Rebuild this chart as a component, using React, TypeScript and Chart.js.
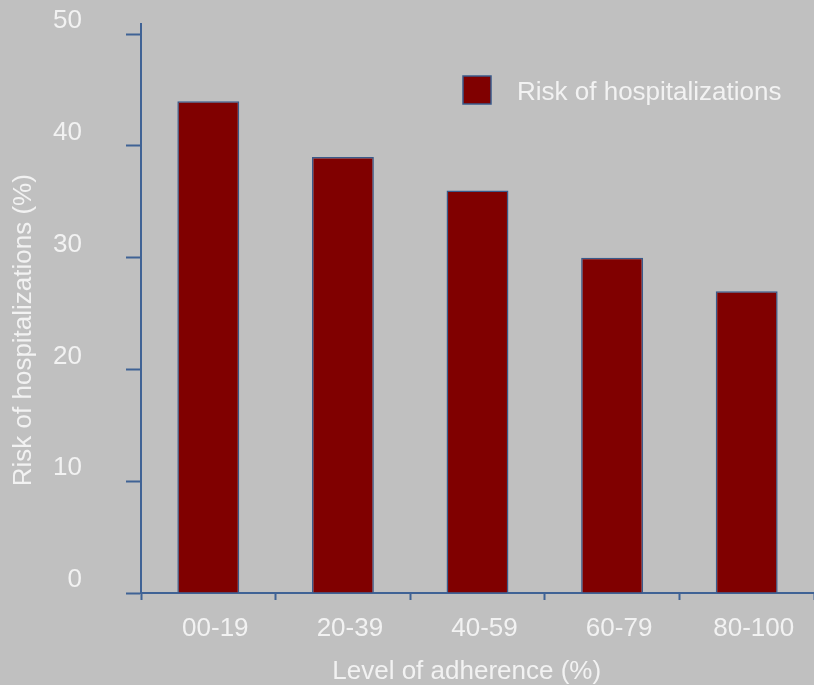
import React, { useEffect, useRef } from "react";
import { Chart, registerables } from "chart.js";

Chart.register(...registerables);

const categories = ["00-19", "20-39", "40-59", "60-79", "80-100"];
const riskValues = [44, 39, 36, 30, 27];
const yTickValues = [0, 10, 20, 30, 40, 50];
const seriesLabel = "Risk of hospitalizations";
const xTitle = "Level of adherence (%)";
const yTitle = "Risk of hospitalizations (%)";

const BG = "#c0c0c0";
const TEXT = "#f2f2f2";
const AXIS = "#3f6295";
const BAR = "#800000";
const FONT = "'Liberation Sans', Arial, sans-serif";
const FS = 26;

const bgPlugin = {
  id: "bgFill",
  beforeDraw(chart: any) {
    const { ctx, width, height } = chart;
    ctx.save();
    ctx.fillStyle = BG;
    ctx.fillRect(0, 0, width, height);
    ctx.restore();
  },
};

const legendPlugin = {
  id: "insideLegend",
  afterDraw(chart: any) {
    const { ctx } = chart;
    const ds = chart.data.datasets[0];
    const boxX = 463;
    const boxY = 76;
    const boxS = 28;
    ctx.save();
    ctx.fillStyle = ds.backgroundColor;
    ctx.strokeStyle = ds.borderColor;
    ctx.lineWidth = 1.5;
    ctx.fillRect(boxX, boxY, boxS, boxS);
    ctx.strokeRect(boxX, boxY, boxS, boxS);
    ctx.fillStyle = TEXT;
    ctx.font = `${FS}px ${FONT}`;
    ctx.textBaseline = "middle";
    ctx.textAlign = "left";
    ctx.fillText(ds.label, 517, 93);
    ctx.restore();
  },
};

export default function App() {
  const ref = useRef<HTMLCanvasElement>(null);

  useEffect(() => {
    if (!ref.current) return;
    const chart = new Chart(ref.current, {
      type: "bar",
      data: {
        labels: categories,
        datasets: [
          {
            label: seriesLabel,
            data: riskValues,
            backgroundColor: BAR,
            borderColor: "#3a5a8a",
            borderWidth: 1.5,
            barPercentage: 0.46,
            categoryPercentage: 1,
          },
        ],
      },
      options: {
        responsive: false,
        animation: false,
        layout: { padding: { top: 24, right: 0, bottom: 0, left: 0 } },
        plugins: {
          legend: { display: false },
          tooltip: { enabled: false },
        },
        scales: {
          x: {
            offset: true,
            grid: {
              display: true,
              offset: true,
              drawOnChartArea: false,
              drawTicks: true,
              tickLength: 7,
              tickColor: AXIS,
              tickWidth: 2,
            },
            border: { display: true, color: AXIS, width: 2 },
            ticks: {
              color: TEXT,
              font: { family: FONT, size: FS },
              padding: 13,
              labelOffset: 7,
              maxRotation: 0,
            },
            title: {
              display: true,
              text: xTitle + "   ",
              color: TEXT,
              font: { family: FONT, size: FS, lineHeight: 1 },
              padding: { top: 0, bottom: 0 },
            },
            afterFit(scale: any) {
              scale.height = 92;
              scale.paddingLeft = 0;
              scale.paddingRight = 0;
            },
          },
          y: {
            min: 0,
            max: 50.9,
            afterBuildTicks(scale: any) {
              scale.ticks = yTickValues.map((v) => ({ value: v }));
            },
            grid: {
              display: true,
              drawOnChartArea: false,
              drawTicks: true,
              tickLength: 15,
              tickColor: AXIS,
              tickWidth: 2,
            },
            border: { display: true, color: AXIS, width: 2 },
            ticks: {
              color: TEXT,
              font: { family: FONT, size: FS },
              padding: 44,
              labelOffset: -13,
            },
            title: {
              display: true,
              text: yTitle + "      ",
              color: TEXT,
              font: { family: FONT, size: FS, lineHeight: 1.2 },
              padding: { top: 8, bottom: 0 },
            },
            afterFit(scale: any) {
              scale.width = 141;
              scale.paddingTop = 0;
              scale.paddingBottom = 0;
            },
          },
        },
      },
      plugins: [bgPlugin, legendPlugin],
    });
    return () => chart.destroy();
  }, []);

  return (
    <div
      style={{
        position: "fixed",
        left: 0,
        top: 0,
        width: 814,
        height: 685,
        background: BG,
        overflow: "hidden",
      }}
    >
      <canvas ref={ref} width={814} height={685} style={{ display: "block" }} />
    </div>
  );
}
